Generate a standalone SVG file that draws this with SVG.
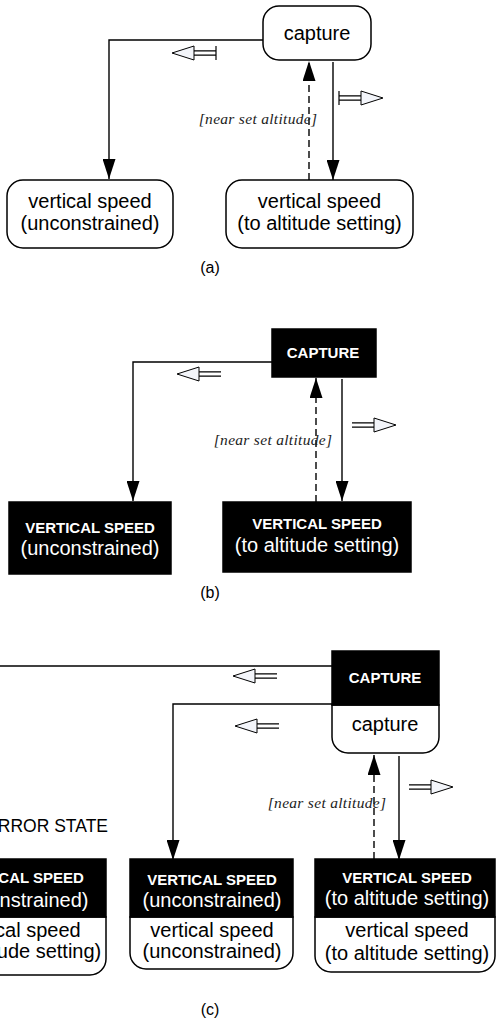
<svg xmlns="http://www.w3.org/2000/svg" width="496" height="1023" viewBox="0 0 496 1023">
<style>
.ln{fill:none;stroke:#000;stroke-width:1.4}
.dash{fill:none;stroke:#000;stroke-width:1.4;stroke-dasharray:7 4}
.box{fill:#fff;stroke:#000;stroke-width:1.5}
.blk{fill:#000;stroke:#000;stroke-width:1.5}
.t{font-family:"Liberation Sans",Arial,sans-serif;font-size:20px;text-anchor:middle;fill:#000}
.tw{font-family:"Liberation Sans",Arial,sans-serif;font-size:20px;text-anchor:middle;fill:#fff}
.tb{font-family:"Liberation Sans",Arial,sans-serif;font-size:15px;font-weight:bold;text-anchor:middle;fill:#fff}
.g{font-family:"Liberation Serif","Times New Roman",serif;font-style:italic;font-size:15.5px;letter-spacing:0.3px;text-anchor:middle;fill:#222}
.cap{font-family:"Liberation Sans",Arial,sans-serif;font-size:16px;text-anchor:middle;fill:#000}
.ev{fill:#f3f5fa;stroke:#000;stroke-width:1}
.evl{fill:none;stroke:#000;stroke-width:1.2}
</style>
<defs>
<marker id="ah" markerUnits="userSpaceOnUse" markerWidth="20" markerHeight="13" refX="20" refY="6.5" orient="auto">
<path d="M0,0 L20,6.5 L0,13 z" fill="#000"/>
</marker>
<g id="evL">
<path class="evl" d="M22,-2.2 H44 M22,2.2 H44"/>
<path class="ev" d="M0,0 L22,-7 L22,7 z"/>
</g>
<g id="evLbar">
<use href="#evL"/>
<path class="evl" d="M44,-7 V7" stroke-width="1.6"/>
</g>
</defs>

<!-- Panel (a) -->
<g id="connectors-a">
<path class="ln" d="M263,40 H109 V179" marker-end="url(#ah)"/>
<path class="ln" d="M333,62 V180" marker-end="url(#ah)"/>
<path class="dash" d="M309,180 V61" marker-end="url(#ah)"/>
<use href="#evLbar" transform="translate(172,53)"/>
<use href="#evLbar" transform="translate(383,98) scale(-1,1)"/>
<text class="g" x="258" y="124">[near set altitude]</text>
</g>
<g id="a-capture">
<rect class="box" x="263" y="6" width="108" height="54" rx="16"/>
<text class="t" x="317" y="40">capture</text>
</g>
<g id="a-vs-unconstrained">
<rect class="box" x="7" y="180" width="166" height="68" rx="16"/>
<text class="t" x="90" y="208">vertical speed</text>
<text class="t" x="90" y="230">(unconstrained)</text>
</g>
<g id="a-vs-altitude">
<rect class="box" x="226" y="180" width="187" height="68" rx="16"/>
<text class="t" x="319.5" y="208">vertical speed</text>
<text class="t" x="319.5" y="230">(to altitude setting)</text>
</g>
<text class="cap" x="210" y="273">(a)</text>

<!-- Panel (b) -->
<g id="connectors-b">
<path class="ln" d="M272,362 H133 V501" marker-end="url(#ah)"/>
<path class="ln" d="M342,379 V501" marker-end="url(#ah)"/>
<path class="dash" d="M316,502 V378" marker-end="url(#ah)"/>
<use href="#evL" transform="translate(177,374)"/>
<use href="#evL" transform="translate(396,425) scale(-1,1)"/>
<text class="g" x="273" y="445">[near set altitude]</text>
</g>
<g id="b-capture">
<rect class="blk" x="272" y="329" width="104" height="48"/>
<text class="tb" x="323" y="358">CAPTURE</text>
</g>
<g id="b-vs-unconstrained">
<rect class="blk" x="9" y="502" width="162" height="72"/>
<text class="tb" x="90" y="533">VERTICAL SPEED</text>
<text class="tw" x="90" y="555">(unconstrained)</text>
</g>
<g id="b-vs-altitude">
<rect class="blk" x="223" y="502" width="188" height="70"/>
<text class="tb" x="317" y="529">VERTICAL SPEED</text>
<text class="tw" x="317" y="552">(to altitude setting)</text>
</g>
<text class="cap" x="210" y="598">(b)</text>

<!-- Panel (c) -->
<g id="connectors-c">
<path class="ln" d="M332,666 H0"/>
<path class="ln" d="M332,704 H173 V860" marker-end="url(#ah)"/>
<path class="ln" d="M399,756 V860" marker-end="url(#ah)"/>
<path class="dash" d="M374,859 V755" marker-end="url(#ah)"/>
<use href="#evL" transform="translate(233,676)"/>
<use href="#evL" transform="translate(235,726)"/>
<use href="#evL" transform="translate(453,787) scale(-1,1)"/>
<text class="g" x="327" y="808">[near set altitude]</text>
</g>
<g id="c-capture">
<path class="box" d="M332,705 V737 A16,16 0 0 0 348,753 H423 A16,16 0 0 0 439,737 V705 Z"/>
<rect class="blk" x="332" y="651" width="107" height="54"/>
<text class="tb" x="385" y="683">CAPTURE</text>
<text class="t" x="385" y="731">capture</text>
</g>
<text class="t" x="108" y="832" text-anchor="end" style="text-anchor:end;font-size:17.5px">ERROR STATE</text>
<g id="c-error">
<path class="box" d="M-68,917 V959 A16,16 0 0 0 -52,975 H90 A16,16 0 0 0 106,959 V917 Z"/>
<rect class="blk" x="-68" y="859" width="174" height="58"/>
<text class="tb" x="19" y="883">VERTICAL SPEED</text>
<text class="tw" x="19" y="907">(unconstrained)</text>
<text class="t" x="19" y="937">vertical speed</text>
<text class="t" x="19" y="958">(to altitude setting)</text>
</g>
<g id="c-vs-unconstrained">
<path class="box" d="M130,917 V953 A16,16 0 0 0 146,969 H277 A16,16 0 0 0 293,953 V917 Z"/>
<rect class="blk" x="130" y="859" width="163" height="58"/>
<text class="tb" x="212" y="885">VERTICAL SPEED</text>
<text class="tw" x="212" y="907">(unconstrained)</text>
<text class="t" x="212" y="937">vertical speed</text>
<text class="t" x="212" y="958">(unconstrained)</text>
</g>
<g id="c-vs-altitude">
<path class="box" d="M315,917 V956 A16,16 0 0 0 331,972 H479 A16,16 0 0 0 495,956 V917 Z"/>
<rect class="blk" x="315" y="859" width="180" height="58"/>
<text class="tb" x="407" y="883">VERTICAL SPEED</text>
<text class="tw" x="407" y="905">(to altitude setting)</text>
<text class="t" x="407" y="937">vertical speed</text>
<text class="t" x="407" y="960">(to altitude setting)</text>
</g>
<text class="cap" x="210" y="1015">(c)</text>
</svg>
